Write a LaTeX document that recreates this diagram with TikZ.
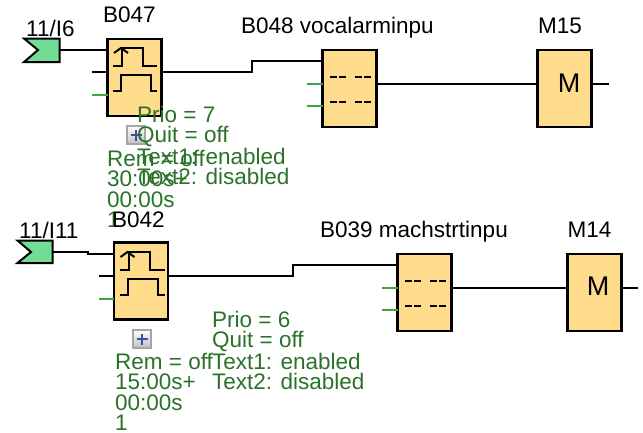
\documentclass[tikz,border=0pt]{standalone}
\usepackage{fontspec}
\setmainfont{Liberation Sans}
\definecolor{boxfill}{HTML}{FFDC8C}
\definecolor{tagfill}{HTML}{73DC96}
\definecolor{paramgreen}{HTML}{2A722A}
\definecolor{stubgreen}{HTML}{3CA53C}
\definecolor{plusblue}{HTML}{3F4FA0}
\tikzset{
  blockbox/.style={draw=black,fill=boxfill,line width=2.2pt,minimum width=54pt,minimum height=77pt,inner sep=0pt,outer sep=0pt},
  wire/.style={draw=black,line width=2pt},
  stub/.style={draw=stubgreen,line width=2pt},
  glyph/.style={draw=black,line width=2pt},
  dashglyph/.style={draw=black,line width=2pt,dash pattern=on 7pt off 2pt},
  tag/.style={draw=black,fill=tagfill,line width=2pt,line join=miter},
  title/.style={anchor=base west,inner sep=0pt,text=black,font=\fontsize{22.5}{24}\selectfont},
  params/.style={anchor=north west,inner sep=0pt,align=left,text=paramgreen,font=\fontsize{22.5}{20.4}\selectfont},
  plusbtn/.style={draw=black!35,line width=1.6pt,top color=white,bottom color=black!25,minimum size=18pt,inner sep=0pt},
  plusbar/.style={draw=plusblue,line width=2pt},
}
\begin{document}
\begin{tikzpicture}[x=1pt,y=-1pt]
\useasboundingbox (0,0) rectangle (643,432);
% ---------- upper row
\node[blockbox] (b47) at (134.5,77.5) {};
\node[blockbox] (b48) at (349.5,88.5) {};
\node[blockbox] (m15) at (564.5,88.5) {};
\draw[tag] (24,38.5) -- (59.5,38.5) -- (59.5,62) -- (24,62) -- (38,50) -- cycle;
\coordinate (i6) at (60,50);
\coordinate (s1) at (92,72);
\coordinate (s2) at (92,95);
\coordinate (s3) at (307,84);
\coordinate (s4) at (307,106);
\coordinate (o15) at (609,84);
\coordinate (k1) at (252,72);
\coordinate (k2) at (252,61);
\draw[wire] (i6) -- (b47.west |- i6);
\draw[wire] (s1) -- (b47.west |- s1);
\draw[stub] (s2) -- (b47.west |- s2);
\draw[wire] (b47.east |- k1) -- (k1) -- (k2) -- (b48.west |- k2);
\draw[stub] (s3) -- (b48.west |- s3);
\draw[stub] (s4) -- (b48.west |- s4);
\draw[wire] (b48.east |- s3) -- (m15.west |- s3);
\draw[wire] (m15.east |- o15) -- (o15);
\draw[glyph] (113,66) -- (122,66) -- (122,48) -- (143,48) -- (143,66) -- (157,66);
\draw[glyph] (114,53) -- (121,48) -- (128,53);
\draw[glyph] (113,91) -- (121,91) -- (121,75) -- (151,75) -- (151,91) -- (157,91);
\draw[dashglyph] (330,77) -- (346,77) (355,77) -- (371,77);
\draw[dashglyph] (330,102) -- (346,102) (355,102) -- (371,102);
\node[anchor=center,inner sep=0pt,font=\fontsize{27}{28}\selectfont] (m15t) at (569,83) {M};
\node[plusbtn] (p1) at (136,135) {};
\draw[plusbar] (130.5,135) -- (141.5,135) (136,129.5) -- (136,140.5);
\node[title] (t1) at (26,36.7) {11/I6};
\node[title] (t2) at (103,22.7) {B047};
\node[title] (t3) at (241,33) {B048 vocalarminpu};
\node[title] (t4) at (538,33) {M15};
\node[params] (g1) at (137,106) {Prio = 7\\Quit = off\\Text1: enabled\\Text2: disabled};
\node[params] (g2) at (107,150) {Rem = off\\30:00s+\\00:00s\\1};
% ---------- lower row
\node[blockbox] (b42) at (141,281) {};
\node[blockbox] (b39) at (424.5,292.5) {};
\node[blockbox] (m14) at (594.5,292.5) {};
\draw[tag] (17.5,240.5) -- (52.5,240.5) -- (52.5,263) -- (17.5,263) -- (31,252) -- cycle;
\coordinate (i11) at (53,252);
\coordinate (j1) at (88,252);
\coordinate (j2) at (88,254);
\coordinate (s5) at (99,276);
\coordinate (s6) at (99,299);
\coordinate (s7) at (382,288);
\coordinate (s8) at (382,310);
\coordinate (o14) at (638,288);
\coordinate (k3) at (293,276);
\coordinate (k4) at (293,265);
\draw[wire] (i11) -- (j1) -- (j2) -- (b42.west |- j2);
\draw[wire] (s5) -- (b42.west |- s5);
\draw[stub] (s6) -- (b42.west |- s6);
\draw[wire] (b42.east |- k3) -- (k3) -- (k4) -- (b39.west |- k4);
\draw[stub] (s7) -- (b39.west |- s7);
\draw[stub] (s8) -- (b39.west |- s8);
\draw[wire] (b39.east |- s7) -- (m14.west |- s7);
\draw[wire] (m14.east |- o14) -- (o14);
\draw[glyph] (119.5,270) -- (128.5,270) -- (128.5,252) -- (150,252) -- (150,270) -- (164.5,270);
\draw[glyph] (120.5,257) -- (127.5,252) -- (134.5,257);
\draw[glyph] (119.5,295) -- (128,295) -- (128,279) -- (157.5,279) -- (157.5,295) -- (164.5,295);
\draw[dashglyph] (405,281) -- (421,281) (430,281) -- (446,281);
\draw[dashglyph] (405,306) -- (421,306) (430,306) -- (446,306);
\node[anchor=center,inner sep=0pt,font=\fontsize{27}{28}\selectfont] (m14t) at (598,286) {M};
\node[plusbtn] (p2) at (142,339) {};
\draw[plusbar] (136.5,339) -- (147.5,339) (142,333.5) -- (142,344.5);
\node[title] (t5) at (19,238) {11/I11};
\node[title] (t6) at (112,227) {B042};
\node[title] (t7) at (320,237) {B039 machstrtinpu};
\node[title] (t8) at (567.5,237) {M14};
\node[params] (g3) at (212,311) {Prio = 6\\Quit = off\\Text1: enabled\\Text2: disabled};
\node[params] (g4) at (115,353) {Rem = off\\15:00s+\\00:00s\\1};
\end{tikzpicture}
\end{document}
